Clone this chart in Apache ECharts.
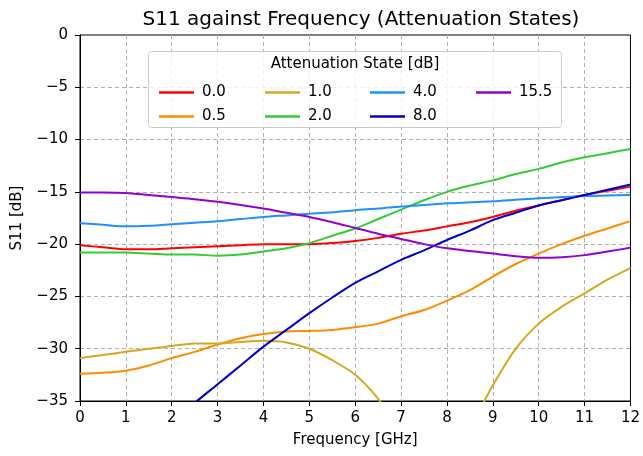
<!DOCTYPE html>
<html>
<head>
<meta charset="utf-8">
<script src="https://cdn.jsdelivr.net/npm/echarts@6/dist/echarts.min.js"></script>
<style>html,body{margin:0;padding:0;background:#fff}#c{width:643px;height:456px}</style>
</head>
<body>
<div id="c"></div>
<script>
const freqs = [0,0.5,1,1.5,2,2.5,3,3.5,4,4.5,5,5.5,6,6.5,7,7.5,8,8.5,9,9.5,10,10.5,11,11.5,12];
const s0_0 = [-20.1,-20.3,-20.5,-20.5,-20.4,-20.3,-20.2,-20.1,-20.0,-20.0,-20.0,-19.9,-19.7,-19.4,-19.0,-18.7,-18.3,-17.9,-17.4,-16.8,-16.3,-15.8,-15.3,-14.9,-14.5];
const s0_5 = [-32.4,-32.3,-32.1,-31.6,-30.9,-30.3,-29.6,-29.0,-28.6,-28.35,-28.3,-28.2,-27.95,-27.6,-26.9,-26.3,-25.4,-24.4,-23.1,-21.9,-20.9,-20.0,-19.2,-18.5,-17.8];
const s1_0 = [-30.9,-30.6,-30.3,-30.0,-29.75,-29.5,-29.5,-29.35,-29.25,-29.4,-30.0,-31.1,-32.5,-34.8,-38,-40,-40,-37.5,-33.5,-30.0,-27.6,-26.0,-24.7,-23.4,-22.3];
const s2_0 = [-20.8,-20.8,-20.8,-20.9,-21.0,-21.0,-21.1,-21.0,-20.7,-20.4,-19.9,-19.2,-18.5,-17.6,-16.7,-15.8,-15.0,-14.4,-13.9,-13.3,-12.8,-12.2,-11.7,-11.3,-10.9];
const s4_0 = [-18.0,-18.15,-18.3,-18.25,-18.1,-17.95,-17.8,-17.6,-17.4,-17.25,-17.1,-16.95,-16.75,-16.6,-16.4,-16.25,-16.1,-16.0,-15.9,-15.75,-15.6,-15.5,-15.4,-15.35,-15.3];
const s8_0 = [-42.8,-41.0,-39.3,-38.9,-37.2,-35.2,-33.4,-31.6,-29.8,-28.2,-26.6,-25.1,-23.7,-22.6,-21.5,-20.6,-19.6,-18.7,-17.7,-17.0,-16.3,-15.8,-15.3,-14.8,-14.3];
const s15_5 = [-15.05,-15.05,-15.1,-15.3,-15.5,-15.7,-15.95,-16.25,-16.6,-17.0,-17.4,-17.9,-18.45,-19.0,-19.5,-20.0,-20.4,-20.65,-20.9,-21.15,-21.3,-21.25,-21.05,-20.7,-20.35];
const stateNames = ['0.0','0.5','1.0','2.0','4.0','8.0','15.5'];
const stateValues = [s0_0, s0_5, s1_0, s2_0, s4_0, s8_0, s15_5];
const stateColors = ['#ff0000','#ff8c00','#daa520','#32cd32','#1e90ff','#0000cd','#9400d3'];
const xTicks = [0,1,2,3,4,5,6,7,8,9,10,11,12];
const yTicks = [-35,-30,-25,-20,-15,-10,-5,0];

const FONT = 'DejaVu Sans';
const FS = 15;
const chart = echarts.init(document.getElementById('c'), null, {renderer:'canvas'});
const minus = v => String(v).replace('-', '\u2212');

const series = stateNames.map((n,i)=>({
  name: n, type: 'line', showSymbol: false, symbol: 'none',
  data: freqs.map((f,j)=>[f, stateValues[i][j]]),
  lineStyle: {width: 2, color: stateColors[i]}, itemStyle: {color: stateColors[i]},
  smooth: 0.3, clip: true, z: 3
}));

// legend layout: matplotlib column-major, 4 columns
const legendPos = [[154,80],[154,104],[260,80],[260,104],[365,80],[365,104],[471,80]];
const legends = stateNames.map((n,i)=>({
  data: [n], left: legendPos[i][0], top: legendPos[i][1],
  icon: 'rect', itemWidth: 35, itemHeight: 2.5, itemGap: 0,
  textStyle: {fontFamily: FONT, fontSize: FS, color: '#000', padding:[0,0,0,3]},
  selectedMode: false, z: 10
}));

const split = {show: true, showMinLine: false, showMaxLine: false,
  lineStyle: {color: '#b0b0b0', type: [4,3], width: 1}};

chart.setOption({
  animation: false,
  backgroundColor: '#fff',
  title: {text: 'S11 against Frequency (Attenuation States)', left: 356, textAlign: 'center', top: 5,
    textStyle: {fontFamily: FONT, fontSize: 20, fontWeight: 'normal', color: '#000'}},
  grid: {left: 80, right: 11, top: 35, bottom: 55, show: true, borderColor: '#000', borderWidth: 1, backgroundColor: 'transparent'},
  xAxis: {type: 'value', min: 0, max: 12, interval: 1,
    name: 'Frequency [GHz]', nameLocation: 'middle', nameGap: 32,
    nameTextStyle: {fontFamily: FONT, fontSize: FS, color: '#000'},
    axisLine: {show: true, onZero: false, lineStyle: {color: '#000', width: 1}},
    axisTick: {show: true, length: 5, lineStyle: {color: '#000'}},
    axisLabel: {fontFamily: FONT, fontSize: FS, color: '#000', margin: 10,
      formatter: v => xTicks.includes(v) ? minus(v) : ''},
    splitLine: split
  },
  yAxis: {type: 'value', min: -35, max: 0, interval: 5,
    name: 'S11 [dB]', nameLocation: 'middle', nameGap: 55, nameRotate: 90,
    nameTextStyle: {fontFamily: FONT, fontSize: FS, color: '#000'},
    axisLine: {show: true, onZero: false, lineStyle: {color: '#000', width: 1}},
    axisTick: {show: true, length: 5, lineStyle: {color: '#000'}},
    axisLabel: {fontFamily: FONT, fontSize: FS, color: '#000', margin: 12,
      formatter: v => yTicks.includes(v) ? minus(v) : ''},
    splitLine: split
  },
  legend: legends,
  graphic: [
    {type: 'rect', shape: {x: 148.5, y: 51.5, width: 413, height: 76, r: 3},
      style: {fill: 'rgba(255,255,255,0.8)', stroke: '#cccccc', lineWidth: 1}, z: 5},
    {type: 'text', x: 355, y: 64, style: {text: 'Attenuation State [dB]', fontFamily: FONT, fontSize: FS,
      fill: '#000', align: 'center', verticalAlign: 'middle'}, z: 6}
  ],
  series: series
});
</script>
</body>
</html>
